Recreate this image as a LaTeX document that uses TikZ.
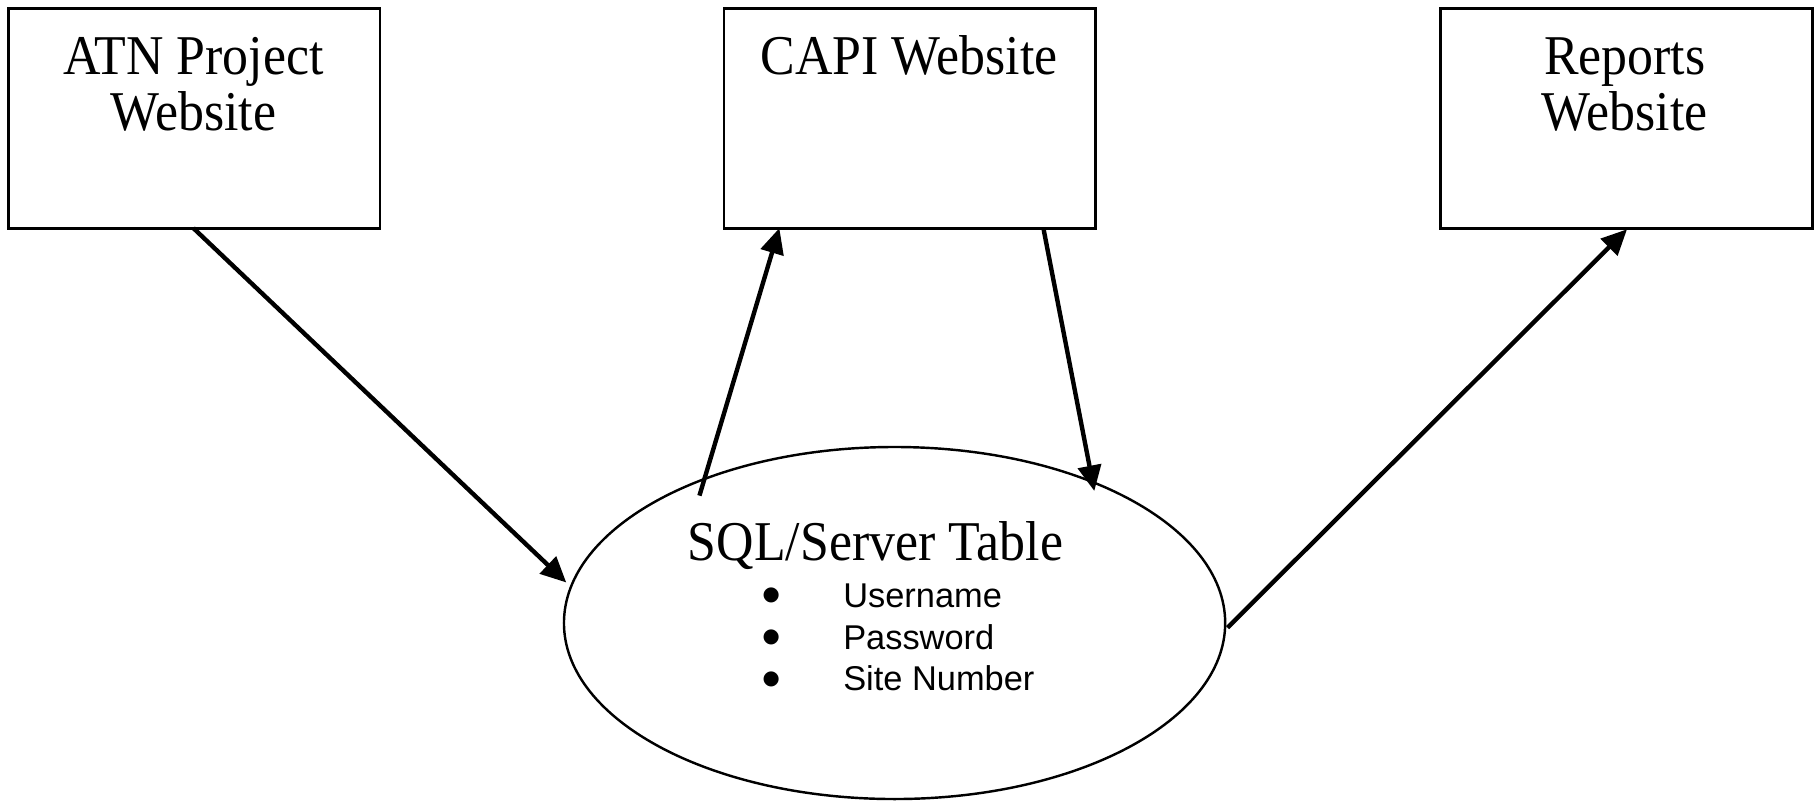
\documentclass[tikz,border=0pt]{standalone}
\usepackage{fontspec}
\setmainfont{Liberation Serif}
\newfontfamily\tnrfont[FakeStretch=0.923]{Liberation Serif}
\newfontfamily\arialfont{Liberation Sans}
\newfontfamily\dejavufont{DejaVu Sans}
\usetikzlibrary{arrows.meta,shapes.geometric}
\tikzset{
  box/.style={draw=black, line width=2.4pt, rectangle, inner sep=0pt, anchor=north west},
  title/.style={inner sep=0pt, anchor=base, font=\tnrfont\fontsize{48.5}{50}\selectfont},
  item/.style={inner sep=0pt, anchor=base west, font=\arialfont\fontsize{29.7}{32}\selectfont},
  dot/.style={inner sep=0pt, anchor=center, font=\dejavufont\fontsize{17}{18}\selectfont},
  db/.style={draw=black, line width=2.1pt, ellipse, inner sep=0pt},
  flow/.style={draw=black, line width=3.8pt, -{Triangle[length=22pt,width=20pt]}},
}
\begin{document}
\begin{tikzpicture}[x=1pt,y=-1pt]
\useasboundingbox (0,0) rectangle (1568.2,692.5);
% boxes
\node[box, minimum width=321pt, minimum height=190pt] (atn) at (6,6) {};
\node[box, minimum width=321pt, minimum height=190pt] (capi) at (624,6) {};
\node[box, minimum width=321pt, minimum height=190pt] (rep) at (1243,6) {};
% box texts
\node[title] (atn1) at (167,64) {ATN Project};
\node[title] (atn2) at (167,113) {Website};
\node[title] (capi1) at (785,64) {CAPI Website};
\node[title] (rep1) at (1403,64) {Reports};
\node[title] (rep2) at (1403,113) {Website};
% ellipse
\node[db, minimum width=571pt, minimum height=304pt] (sql) at (772.5,538) {};
\node[title] (sqlt) at (756,484) {SQL/Server Table};
\node[dot] (b1) at (666,514.5) {●};
\node[dot] (b2) at (666,550.5) {●};
\node[dot] (b3) at (666,586.5) {●};
\node[item] (i1) at (728,524.5) {Username};
\node[item] (i2) at (728,560.5) {Password};
\node[item] (i3) at (728,596.5) {Site Number};
% connector end points
\coordinate (a1s) at (167,197);
\coordinate (a1e) at (489,503);
\coordinate (a2s) at (604,428);
\coordinate (a2e) at (673,197);
\coordinate (a3s) at (901,197);
\coordinate (a3e) at (945,424);
\coordinate (a4s) at (1060,542);
\coordinate (a4e) at (1405,198);
\draw[flow] (a1s) -- (a1e);
\draw[flow] (a2s) -- (a2e);
\draw[flow] (a3s) -- (a3e);
\draw[flow] (a4s) -- (a4e);
\end{tikzpicture}
\end{document}
